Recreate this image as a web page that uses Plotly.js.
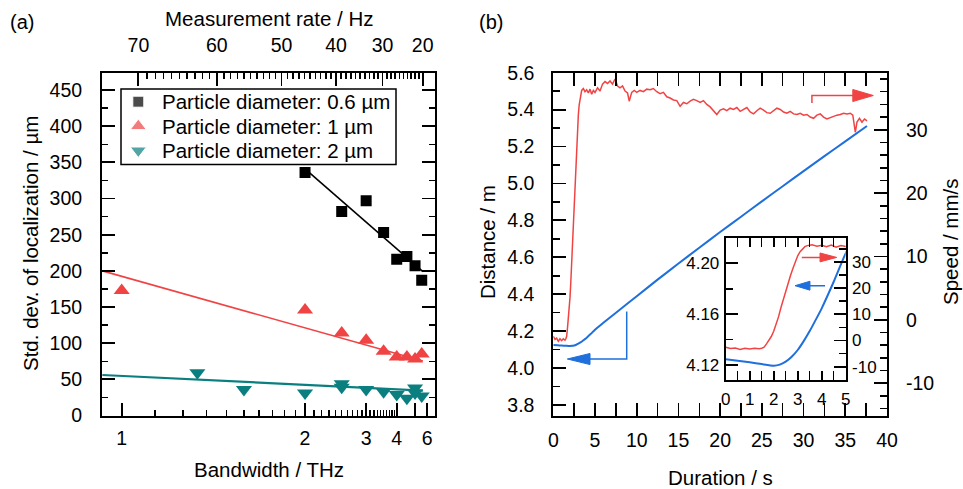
<!DOCTYPE html>
<html><head><meta charset="utf-8">
<script src="https://cdn.plot.ly/plotly-3.0.1.min.js"></script>
<style>html,body{margin:0;padding:0;background:#fff}#chart{width:963px;height:489px}</style>
</head><body><div id="chart"></div>
<script>
// ---------- Panel (a): localization precision ----------
const bw06 = [2, 2.5, 3, 3.5, 4, 4.5, 5, 5.5];
const sd06 = [336, 282, 297, 253, 216, 220, 207, 187];
const bw1  = [1, 2, 2.5, 3, 3.5, 4, 4.5, 5, 5.5];
const sd1  = [173, 146, 114, 104, 89, 81, 81, 78, 85];
const bw2  = [1.26, 1.5, 2, 2.5, 2.5, 3, 3.5, 4, 4.5, 5, 5, 5.5];
const sd2  = [59, 36, 31, 44, 39, 36, 33, 29, 24, 38, 31, 27];
const seriesNames = ['Particle diameter: 0.6 µm', 'Particle diameter: 1 µm', 'Particle diameter: 2 µm'];
// linear fits (straight on the 1/bandwidth axis): endpoints
const fit06Bw = [2, 5.6],   fit06Sd = [341, 199];
const fit1Bw  = [0.95, 5.6], fit1Sd  = [200, 75.4];
const fit2Bw  = [0.95, 5.6], fit2Sd  = [56, 34.5];
// axis ticks
const bwTicks = [1, 2, 3, 4, 5, 6];
const bwTickText = ['1', '2', '3', '4', '', '6'];
const bwMinor = [1.1,1.2,1.3,1.4,1.5,1.6,1.7,1.8,1.9,2.1,2.2,2.3,2.4,2.5,2.6,2.7,2.8,2.9,3.1,3.2,3.3,3.4,3.5,3.6,3.7,3.8,3.9];
const rateTicks = [70, 60, 50, 40, 30, 20];
const rateTickText = ['70', '60', '50', '40', '30', '20'];
const rateMinor = [69,68,67,66,65,64,63,62,61,59,58,57,56,55,54,53,52,51,49,48,47,46,45,44,43,42,41,39,38,37,36,35,34,33,32,31,29,28,27,26,25,24,23,22,21];
const sdTicks = [0,50,100,150,200,250,300,350,400,450];
const sdMinor = [25,75,125,175,225,275,325,375,425,475];
// measurement rate = 1/(T0 + T1*bandwidth)
const T0 = 0.00603, T1 = 0.00788;

// ---------- Panel (b): distance & speed ----------
const tDist = [0,0.5,1,1.5,2,2.25,2.5,2.75,3,3.25,3.5,3.75,4,4.5,5,6,8,10,12.5,15,17.5,20,22.5,25,27.5,30,32.5,35,37.6];
const dist  = [4.1245,4.1233,4.1221,4.1207,4.1195,4.1203,4.1226,4.1265,4.1318,4.1388,4.1467,4.1555,4.1646,4.1855,4.2079,4.245,4.317,4.389,4.479,4.566,4.652,4.737,4.820,4.903,4.985,5.067,5.148,5.228,5.311];
const tSpeed = [0,0.2,0.4,0.6,0.8,1.0,1.2,1.4,1.5,1.6,1.7,1.8,1.9,2.0,2.1,2.2,2.3,2.4,2.5,2.6,2.7,2.8,2.9,3.0,3.1,3.2,3.3,3.4,3.6,3.8,4.0,4.2,4.4,4.6,4.8,5.0,5.3,5.6,5.9,6.2,6.5,6.8,7.1,7.4,7.7,8.0,8.3,8.6,8.9,9.1,9.4,9.7,10.0,10.4,10.8,11.2,11.6,12.0,12.4,12.8,13.2,13.6,14.0,14.4,14.8,15.2,15.6,16.0,16.4,16.8,17.2,17.6,18.0,18.4,18.8,19.2,19.6,20.0,20.4,20.8,21.2,21.6,22.0,22.4,22.8,23.2,23.6,24.0,24.4,24.8,25.2,25.6,26.0,26.4,26.8,27.2,27.6,28.0,28.4,28.8,29.2,29.6,30.0,30.4,30.8,31.2,31.6,32.0,32.4,32.8,33.2,33.6,34.0,34.4,34.8,35.2,35.6,35.9,36.1,36.2,36.4,36.7,37.0,37.3,37.6];
const speed = [-2.6,-3.1,-2.9,-3.4,-3.0,-3.3,-3.0,-3.2,-3.0,-2.6,-1.3,0.0,1.5,3.5,6.0,9.0,12.5,15.8,19.0,22.0,24.8,27.5,30.2,32.3,33.9,35.0,35.8,36.2,36.5,36.0,36.3,35.8,36.4,35.6,36.2,35.9,36.6,36.1,37.2,37.6,37.3,37.7,37.2,38.0,36.9,36.6,36.9,36.1,35.8,34.5,35.9,36.2,35.9,36.2,36.0,36.4,36.3,36.5,36.0,35.7,35.9,35.2,35.0,34.7,34.6,33.7,34.3,34.1,34.5,34.8,34.6,34.3,34.6,34.0,33.6,33.0,32.4,33.1,33.3,33.0,33.4,33.2,33.5,32.9,33.2,33.5,32.8,32.5,33.0,33.4,33.1,32.7,32.6,33.0,33.4,33.2,32.8,32.6,32.9,32.5,32.4,32.6,32.3,32.4,32.0,31.8,32.3,32.5,32.0,31.7,31.9,32.2,32.3,32.4,32.6,32.5,32.6,32.3,30.5,29.6,31.2,31.8,31.2,31.7,31.4];
const tTicks = [0,5,10,15,20,25,30,35,40];
const tMinor = [2.5,7.5,12.5,17.5,22.5,27.5,32.5,37.5];
const dTicks = [3.8,4.0,4.2,4.4,4.6,4.8,5.0,5.2,5.4,5.6];
const dTickText = ['3.8','4.0','4.2','4.4','4.6','4.8','5.0','5.2','5.4','5.6'];
const dMinor = [3.9,4.1,4.3,4.5,4.7,4.9,5.1,5.3,5.5];
const vTicks = [-10,0,10,20,30];
const vTickText = ['-10','0','10','20','30'];
const vMinor = [-14,-12,-8,-6,-4,-2,2,4,6,8,12,14,16,18,22,24,26,28,32,34,36,38];
const insetTTicks = [0,1,2,3,4,5];
const insetTMinor = [0.5,1.5,2.5,3.5,4.5];
const insetDTicks = [4.12,4.16,4.20];
const insetDTickText = ['4.12','4.16','4.20'];
const insetDMinor = [4.14,4.18];
const insetVMinor = [-15,-5,5,15,25,35];

const RED = '#F04444', TEAL = '#0B7F80', BLUE = '#1F6FDC', BLACK = '#000';
const W = 963, H = 489;
const px = x => x / W, py = y => 1 - y / H;
const inv = b => -1 / b;
const rateToV = r => -1 / ((1 / r - T0) / T1);
const FONT = 'Liberation Sans, Arial, Helvetica, sans-serif';
const xr = [-1.0537, -0.1456];

// legend layout (pixel positions of the hand-drawn legend box)
const legX = 121, legY = 89, legW = 275, legH = 75.5, legRow = 24.4, legSym = 138.3, legText = 160;
const legSymbols = ['square', 'triangle-up', 'triangle-down'];
const legColors = [BLACK, RED, TEAL];
const legSizes = [11, 14, 14];

const traces = [
  {x: fit06Bw.map(inv), y: fit06Sd, mode: 'lines', line: {color: BLACK, width: 1.6}, showlegend: false, xaxis: 'x', yaxis: 'y', hoverinfo: 'skip'},
  {x: fit1Bw.map(inv), y: fit1Sd, mode: 'lines', line: {color: RED, width: 1.6}, showlegend: false, xaxis: 'x', yaxis: 'y', hoverinfo: 'skip'},
  {x: fit2Bw.map(inv), y: fit2Sd, mode: 'lines', line: {color: TEAL, width: 2.2}, showlegend: false, xaxis: 'x', yaxis: 'y', hoverinfo: 'skip'},
  {x: bw06.map(inv), y: sd06, mode: 'markers', name: seriesNames[0], marker: {symbol: 'square', size: 11, color: BLACK}, xaxis: 'x', yaxis: 'y'},
  {x: bw1.map(inv), y: sd1, mode: 'markers', name: seriesNames[1], marker: {symbol: 'triangle-up', size: 14, color: RED}, xaxis: 'x', yaxis: 'y'},
  {x: bw2.map(inv), y: sd2, mode: 'markers', name: seriesNames[2], marker: {symbol: 'triangle-down', size: 14, color: TEAL}, xaxis: 'x', yaxis: 'y'},
  // carrier for the top (measurement rate) axis
  {x: xr, y: [0, 0], mode: 'markers', marker: {opacity: 0, size: 1}, showlegend: false, xaxis: 'x3', yaxis: 'y', hoverinfo: 'skip'},
  // panel b
  {x: tDist, y: dist, mode: 'lines', line: {color: BLUE, width: 2, shape: 'spline', smoothing: 0.6}, showlegend: false, xaxis: 'x2', yaxis: 'y2'},
  {x: tSpeed, y: speed, mode: 'lines', line: {color: RED, width: 1.5}, showlegend: false, xaxis: 'x2', yaxis: 'y3'},
  // inset
  {x: tDist, y: dist, mode: 'lines', line: {color: BLUE, width: 2, shape: 'spline', smoothing: 0.6}, showlegend: false, xaxis: 'x4', yaxis: 'y4'},
  {x: tSpeed, y: speed, mode: 'lines', line: {color: RED, width: 1.5}, showlegend: false, xaxis: 'x4', yaxis: 'y5'},
  // legend symbols (pixel overlay)
  {x: [legSym, legSym, legSym], y: [legY + 12.7, legY + 12.7 + legRow, legY + 12.7 + 2 * legRow], mode: 'markers',
   marker: {symbol: legSymbols, color: legColors, size: legSizes}, showlegend: false, xaxis: 'x5', yaxis: 'y6', hoverinfo: 'skip'}
];

const baseAx = {showgrid: false, zeroline: false, showline: true, linecolor: BLACK, linewidth: 2,
  ticks: 'inside', ticklen: 13, tickwidth: 1.8, tickcolor: BLACK, tickfont: {size: 19.5, color: BLACK, family: FONT}, tickmode: 'array'};
const minor = (vals, len) => ({tickmode: 'array', tickvals: vals, ticks: 'inside', ticklen: len, tickwidth: 1.5, tickcolor: BLACK, showgrid: false});
const insetAx = Object.assign({}, baseAx, {ticklen: 12, tickfont: {size: 17, color: BLACK, family: FONT}});

const ann = (text, x, y, extra) => Object.assign({text, x: px(x), y: py(y), xref: 'paper', yref: 'paper', showarrow: false,
  xanchor: 'center', yanchor: 'middle', font: {size: 20.5}}, extra || {});

const layout = {
  width: W, height: H, margin: {l: 0, r: 0, t: 0, b: 0},
  paper_bgcolor: '#fff', plot_bgcolor: 'rgba(0,0,0,0)',
  font: {family: FONT, color: BLACK, size: 20},
  showlegend: false,
  xaxis: Object.assign({}, baseAx, {domain: [px(102), px(435)], anchor: 'y', range: xr,
    tickvals: bwTicks.map(inv), ticktext: bwTickText, mirror: true, ticklabelstandoff: 4,
    minor: minor(bwMinor.map(inv), 6)}),
  xaxis3: Object.assign({}, baseAx, {overlaying: 'x', side: 'top', anchor: 'y', range: xr, showline: false,
    tickvals: rateTicks.map(rateToV), ticktext: rateTickText, ticklabelstandoff: 16,
    minor: minor(rateMinor.map(rateToV), 6)}),
  yaxis: Object.assign({}, baseAx, {domain: [py(415.5), py(72.7)], anchor: 'x', range: [0, 474],
    tickvals: sdTicks, ticktext: sdTicks.map(String), mirror: 'ticks', ticklabelstandoff: 14,
    minor: minor(sdMinor, 6)}),
  xaxis2: Object.assign({}, baseAx, {domain: [px(553.3), px(887)], anchor: 'y2', range: [0, 40],
    tickvals: tTicks, ticktext: tTicks.map(String), mirror: 'ticks', ticklabelstandoff: 6,
    minor: minor(tMinor, 13)}),
  yaxis2: Object.assign({}, baseAx, {domain: [py(415.5), py(72.7)], anchor: 'x2', range: [3.743, 5.6],
    tickvals: dTicks, ticktext: dTickText, ticklabelstandoff: 13, minor: minor(dMinor, 7)}),
  yaxis3: Object.assign({}, baseAx, {overlaying: 'y2', side: 'right', anchor: 'x2', range: [-15.1, 39],
    tickvals: vTicks, ticktext: vTickText, ticklabelstandoff: 13, minor: minor(vMinor, 7)}),
  xaxis4: Object.assign({}, insetAx, {domain: [px(725.7), px(845.7)], anchor: 'y4', range: [0, 5],
    tickvals: insetTTicks, ticktext: insetTTicks.map(String), mirror: 'ticks', ticklen: 9, ticklabelstandoff: 3,
    minor: minor(insetTMinor, 9)}),
  yaxis4: Object.assign({}, insetAx, {domain: [py(380), py(238.3)], anchor: 'x4', range: [4.1082, 4.2197],
    tickvals: insetDTicks, ticktext: insetDTickText, ticklabelstandoff: 1, minor: minor(insetDMinor, 7)}),
  yaxis5: Object.assign({}, insetAx, {overlaying: 'y4', side: 'right', anchor: 'x4', range: [-15.1, 39],
    tickvals: vTicks, ticktext: vTickText, ticklabelstandoff: 1, minor: minor(insetVMinor, 7)}),
  xaxis5: {domain: [0, 1], range: [0, W], visible: false, anchor: 'y6', fixedrange: true},
  yaxis6: {domain: [0, 1], range: [H, 0], visible: false, anchor: 'x5', fixedrange: true},
  annotations: [
    ann('(a)', 21.5, 21.7, {font: {size: 20}}),
    ann('(b)', 491, 21.7, {font: {size: 20}}),
    ann('Measurement rate / Hz', 269, 18),
    ann('Bandwidth / THz', 269, 469),
    ann('Std. dev. of localization / µm', 30, 244, {textangle: -90}),
    ann('Distance / m', 488, 242, {textangle: -90}),
    ann('Speed / mm/s', 951, 242, {textangle: -90}),
    ann('Duration / s', 720.5, 477),
    ann(seriesNames[0], legText, legY + 12.7, {xanchor: 'left'}),
    ann(seriesNames[1], legText, legY + 12.7 + legRow, {xanchor: 'left'}),
    ann(seriesNames[2], legText, legY + 12.7 + 2 * legRow, {xanchor: 'left'})
  ],
  shapes: [
    {type: 'rect', xref: 'paper', yref: 'paper', x0: px(legX), x1: px(legX + legW), y0: py(legY), y1: py(legY + legH),
     line: {color: BLACK, width: 1.5}, fillcolor: 'rgba(0,0,0,0)', layer: 'above'},
    {type: 'path', xref: 'x2', yref: 'y3', path: 'M31,34.2 L31,35.4 L36.2,35.4', line: {color: RED, width: 1.5}},
    {type: 'path', xref: 'x2', yref: 'y3', path: 'M35.9,34.45 L38.36,35.4 L35.9,36.35 Z', fillcolor: RED, line: {color: RED, width: 1}},
    {type: 'path', xref: 'x2', yref: 'y2', path: 'M8.8,4.307 L8.8,4.049 L4.2,4.049', line: {color: BLUE, width: 1.5}},
    {type: 'path', xref: 'x2', yref: 'y2', path: 'M4.4,4.019 L1.68,4.049 L4.4,4.079 Z', fillcolor: BLUE, line: {color: BLUE, width: 1}},
    {type: 'path', xref: 'x4', yref: 'y5', path: 'M3.17,31.7 L4.0,31.7', line: {color: RED, width: 1.5}},
    {type: 'path', xref: 'x4', yref: 'y5', path: 'M3.93,30.0 L4.625,31.7 L3.93,33.4 Z', fillcolor: RED, line: {color: RED, width: 1}},
    {type: 'path', xref: 'x4', yref: 'y4', path: 'M4.14,4.1824 L3.45,4.1824', line: {color: BLUE, width: 1.5}},
    {type: 'path', xref: 'x4', yref: 'y4', path: 'M3.51,4.1789 L2.89,4.1824 L3.51,4.1859 Z', fillcolor: BLUE, line: {color: BLUE, width: 1}}
  ]
};

Plotly.newPlot('chart', traces, layout, {displayModeBar: false, staticPlot: true});
</script>
</body></html>
